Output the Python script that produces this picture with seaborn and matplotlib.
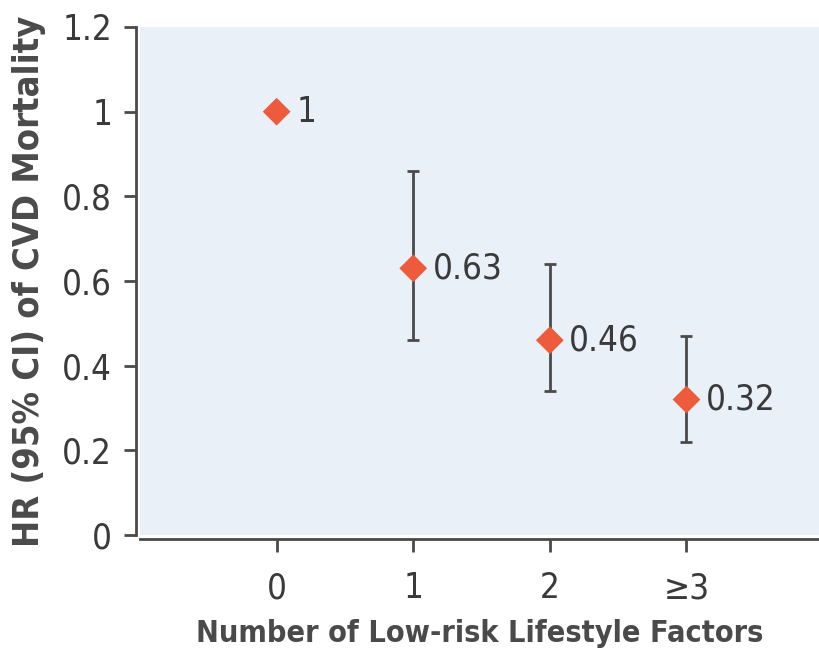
import matplotlib
matplotlib.use("Agg")
import matplotlib.pyplot as plt
import seaborn as sns
import pandas as pd
import numpy as np

# Hazard ratios of CVD mortality by number of low-risk lifestyle factors
categories = ["0", "1", "2", "≥3"]
hr = [1.0, 0.63, 0.46, 0.32]
ci_low = [1.0, 0.46, 0.34, 0.22]
ci_high = [1.0, 0.86, 0.64, 0.47]
labels = ["1", "0.63", "0.46", "0.32"]

sns.set_theme(style="white")
plt.rcParams["font.family"] = ["DejaVu Sans"]
plt.rcParams["font.stretch"] = "condensed"

df = pd.DataFrame({"pos": np.arange(len(categories)), "hr": hr,
                   "lo": ci_low, "hi": ci_high, "label": labels})

fig = plt.figure(figsize=(8.19, 6.57), dpi=100)
ax = fig.add_axes([140 / 819, 1 - 535 / 657, (819 - 140) / 819, (535 - 27) / 657])
ax.set_facecolor("#E9F0F8")

dark = "#4A4A4A"
# confidence intervals (only where the interval has width)
has_ci = df["hi"] > df["lo"]
sub = df[has_ci]
ax.errorbar(sub["pos"], sub["hr"],
            yerr=[sub["hr"] - sub["lo"], sub["hi"] - sub["hr"]],
            fmt="none", ecolor=dark, elinewidth=2, capsize=4, capthick=2, zorder=2)

sns.scatterplot(data=df, x="pos", y="hr", marker="D", s=200, color="#EE5A3C",
                edgecolor="none", ax=ax, zorder=3)

for _, r in df.iterrows():
    ax.annotate(r["label"], (r["pos"], r["hr"]), xytext=(14, 0),
                textcoords="offset points", va="center", ha="left",
                fontsize=25, color="#3A3A3A")

ax.set_xlim(-1, 3.97)
ax.set_ylim(0, 1.2)
ax.set_xticks(df["pos"])
ax.set_xticklabels(categories)
ax.set_yticks([0, 0.2, 0.4, 0.6, 0.8, 1.0, 1.2])
ax.set_yticklabels(["0", "0.2", "0.4", "0.6", "0.8", "1", "1.2"])

for side in ["top", "right"]:
    ax.spines[side].set_visible(False)
for side in ["left", "bottom"]:
    ax.spines[side].set_color(dark)
    ax.spines[side].set_linewidth(2)
    ax.spines[side].set_position(("outward", 3))

ax.tick_params(axis="both", which="major", direction="out", length=9, width=2,
               color=dark, labelsize=25, labelcolor="#3A3A3A", pad=8,
               bottom=True, left=True)
ax.tick_params(axis="x", pad=14)

ax.set_xlabel("Number of Low-risk Lifestyle Factors", fontsize=22,
              fontweight="bold", color="#4A4A4A", labelpad=10)
ax.set_ylabel("HR (95% CI) of CVD Mortality", fontsize=26,
              fontweight="bold", color="#4A4A4A", labelpad=12)

fig.savefig("out.png", dpi=100)
